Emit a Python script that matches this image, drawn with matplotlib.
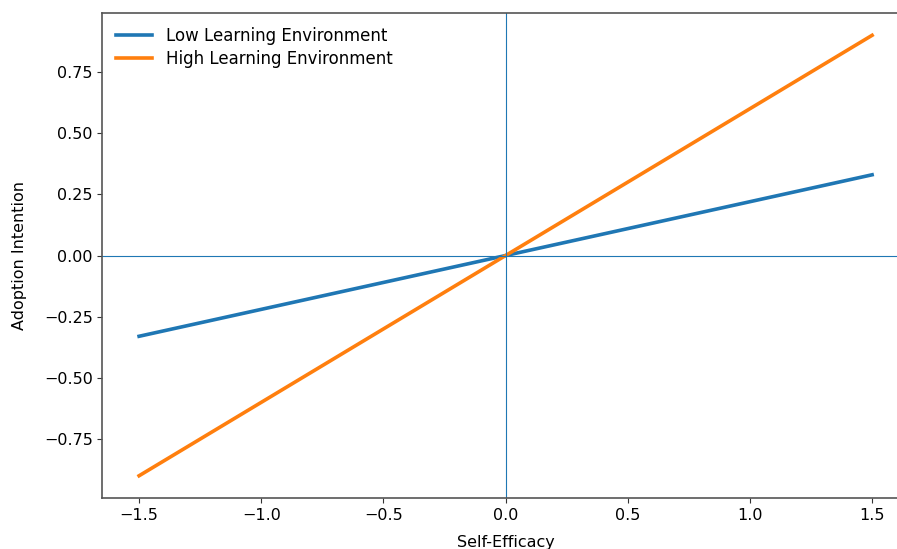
import matplotlib.pyplot as plt
import numpy as np

# simple slopes of adoption intention on self-efficacy
x_vals = [-1.5, 1.5]
low_env = [-0.33, 0.33]
high_env = [-0.90, 0.90]

fig = plt.figure(figsize=(8.97, 5.49), dpi=100)
# the reference is cropped on the right and bottom, so the axes run past the edge
ax = fig.add_axes([0.1142, 0.0933, 0.8989, 0.8825])

ax.plot(x_vals, low_env, color='tab:blue', lw=2.6, label='Low Learning Environment')
ax.plot(x_vals, high_env, color='tab:orange', lw=2.6, label='High Learning Environment')
ax.axhline(0, lw=0.8, color='tab:blue')
ax.axvline(0, lw=0.8, color='tab:blue')

ax.tick_params(labelsize=11.5, colors='#333333', labelcolor='black')
for sp in ax.spines.values():
    sp.set_color('#555555')
    sp.set_linewidth(1.2)

ax.set_xlabel('Self-Efficacy', fontsize=11.5, labelpad=9)
ax.set_ylabel('Adoption Intention', fontsize=11.5, labelpad=12)
ax.legend(loc='upper left', frameon=False, fontsize=12, handlelength=2.2,
          labelspacing=0.3, borderaxespad=0.4)

fig.savefig('out.png', dpi=100)
